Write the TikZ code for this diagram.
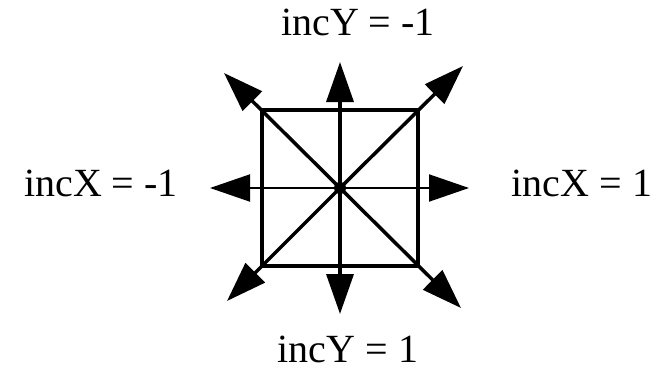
\documentclass[tikz,border=0pt]{standalone}
\usepackage{fontspec}
\setmainfont{Liberation Serif}
\usetikzlibrary{arrows.meta}
\begin{document}
\begin{tikzpicture}[x=1pt,y=-1pt,
  lbl/.style={font=\fontsize{40}{44}\selectfont, inner sep=0pt},
  arr/.style={-{Triangle[length=40pt,width=27pt]}},
  sqbox/.style={draw, line width=4.5pt, minimum size=156pt, inner sep=0pt}]
\useasboundingbox (0,0) rectangle (667,378);
\coordinate (c) at (340,188);
\node[sqbox] (sq) at (340,188) {};
\coordinate (tN) at (340,62);
\coordinate (tS) at (340,314);
\coordinate (tW) at (210,188);
\coordinate (tE) at (469,188);
\coordinate (tNW) at (224,73);
\coordinate (tNE) at (463,66);
\coordinate (tSW) at (227,301);
\coordinate (tSE) at (461,308);
\draw[arr, line width=3.5pt] (c) -- (tN);
\draw[arr, line width=3.5pt] (c) -- (tS);
\draw[arr, line width=2pt] (c) -- (tW);
\draw[arr, line width=2pt] (c) -- (tE);
\draw[arr, line width=3.5pt] (c) -- (tNW);
\draw[arr, line width=3.5pt] (c) -- (tNE);
\draw[arr, line width=3.5pt] (c) -- (tSW);
\draw[arr, line width=3.5pt] (c) -- (tSE);
\fill (c) circle (6pt);
\node[lbl] (top) at (358,22) {incY = -1};
\node[lbl] (bot) at (348,349) {incY = 1};
\node[lbl] (lft) at (101,183) {incX = -1};
\node[lbl] (rgt) at (582,183) {incX = 1};
\end{tikzpicture}
\end{document}
